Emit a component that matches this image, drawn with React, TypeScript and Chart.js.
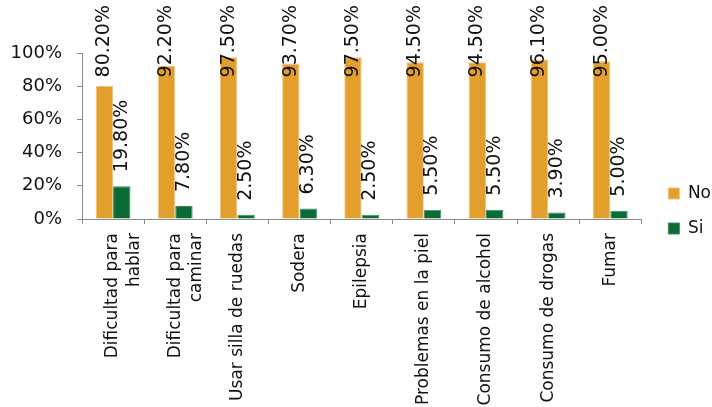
import React, { useEffect, useRef } from "react";
import { Chart, registerables } from "chart.js";

Chart.register(...registerables);

const categories: (string | string[])[] = [
  ["Dificultad para", "hablar"],
  ["Dificultad para", "caminar"],
  "Usar silla de ruedas",
  "Sodera",
  "Epilepsia",
  "Problemas en la piel",
  "Consumo de alcohol",
  "Consumo de drogas",
  "Fumar",
];
const noValues = [80.2, 92.2, 97.5, 93.7, 97.5, 94.5, 94.5, 96.1, 95.0];
const siValues = [19.8, 7.8, 2.5, 6.3, 2.5, 5.5, 5.5, 3.9, 5.0];
const seriesNames = ["No", "Si"];
const yTicks = [0, 20, 40, 60, 80, 100];

const FONT = "'DejaVu Sans', Verdana, sans-serif";
const ORANGE = "#E29F2B";
const GREEN = "#0A6B36";
const AXIS = "#8C8C8C";

const dataLabelPlugin = {
  id: "vertLabels",
  afterDatasetsDraw(chart: any) {
    const ctx = chart.ctx;
    ctx.save();
    ctx.font = `19px ${FONT}`;
    ctx.fillStyle = "#111";
    ctx.textAlign = "left";
    ctx.textBaseline = "middle";
    chart.data.datasets.forEach((ds: any, di: number) => {
      const meta = chart.getDatasetMeta(di);
      meta.data.forEach((bar: any, i: number) => {
        const v = ds.data[i] as number;
        const text = v.toFixed(2) + "%";
        const w = ctx.measureText(text).width;
        const bottom = Math.max(bar.y - 14, 5 + w);
        ctx.save();
        ctx.translate(bar.x, bottom);
        ctx.rotate(-Math.PI / 2);
        ctx.fillText(text, 0, 0);
        ctx.restore();
      });
    });
    ctx.restore();
  },
};

const legendShiftPlugin = {
  id: "legendShift",
  afterLayout(chart: any) {
    const lg = chart.legend;
    if (!lg) return;
    lg.left += 9;
    lg.right += 9;
    lg.top -= 19;
    lg.bottom -= 19;
  },
};

export default function App() {
  const ref = useRef<HTMLCanvasElement>(null);
  useEffect(() => {
    if (!ref.current) return;
    const chart = new Chart(ref.current, {
      type: "bar",
      data: {
        labels: categories,
        datasets: [
          {
            label: seriesNames[0],
            data: noValues,
            backgroundColor: ORANGE,
            borderColor: "#F0C27A",
            borderWidth: 1,
            barPercentage: 1,
            categoryPercentage: 0.56,
          },
          {
            label: seriesNames[1],
            data: siValues,
            backgroundColor: GREEN,
            borderColor: "#3C8C5E",
            borderWidth: 1,
            barPercentage: 1,
            categoryPercentage: 0.56,
          },
        ],
      },
      options: {
        animation: false,
        responsive: true,
        maintainAspectRatio: false,
        layout: { padding: { top: 53, left: 0, right: 0, bottom: 0 } },
        plugins: {
          tooltip: { enabled: false },
          legend: {
            position: "right",
            align: "center",
            labels: {
              boxWidth: 11,
              boxHeight: 11,
              padding: 18,
              color: "#111",
              font: { family: FONT, size: 17 },
            },
          },
        },
        scales: {
          x: {
            afterFit: (scale: any) => {
              scale.height = 188;
            },
            grid: {
              display: true,
              drawOnChartArea: false,
              drawTicks: true,
              tickLength: 5,
              color: AXIS,
              offset: true,
            },
            border: { display: true, color: AXIS, width: 1 },
            ticks: {
              minRotation: 90,
              maxRotation: 90,
              autoSkip: false,
              padding: 9,
              color: "#111",
              font: { family: FONT, size: 17, lineHeight: 1.25 },
            },
          },
          y: {
            min: 0,
            max: 100,
            afterFit: (scale: any) => {
              scale.width = 82;
            },
            afterBuildTicks: (scale: any) => {
              scale.ticks = yTicks.map((v) => ({ value: v }));
            },
            grid: {
              display: true,
              drawOnChartArea: false,
              drawTicks: true,
              tickLength: 5,
              color: AXIS,
            },
            border: { display: true, color: AXIS, width: 1 },
            ticks: {
              padding: 15,
              color: "#111",
              font: { family: FONT, size: 18 },
              callback: (v: any) => v + "%",
            },
          },
        },
      },
      plugins: [dataLabelPlugin, legendShiftPlugin],
    });
    return () => chart.destroy();
  }, []);
  return (
    <div style={{ position: "fixed", left: 0, top: 0, width: 712, height: 407, background: "#fff" }}>
      <canvas ref={ref} />
    </div>
  );
}
